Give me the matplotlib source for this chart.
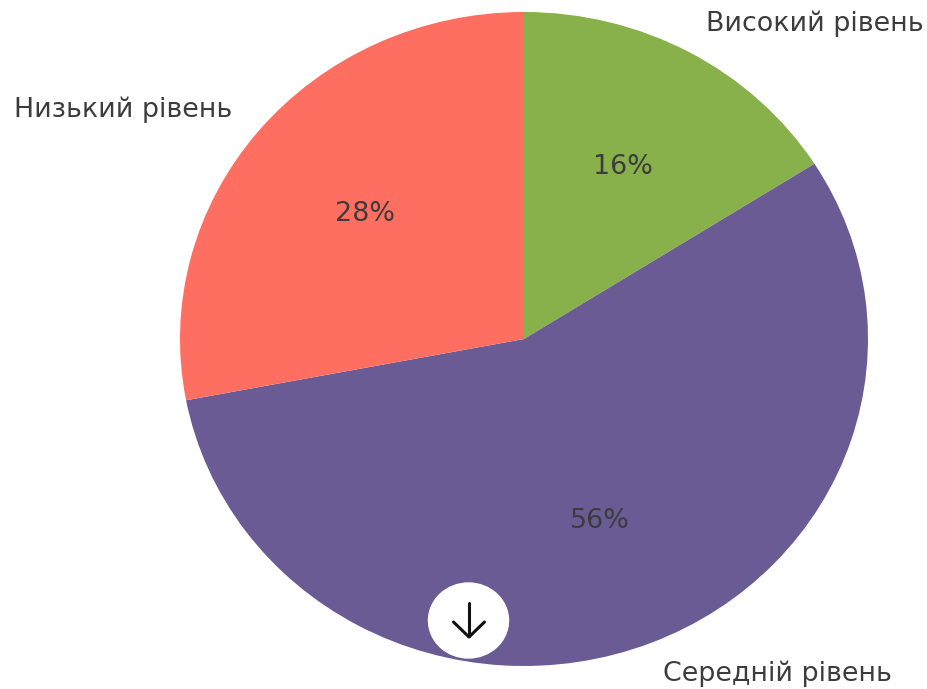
import matplotlib
matplotlib.use('Agg')
import matplotlib.pyplot as plt
from matplotlib.patches import Ellipse

labels = ['Високий рівень', 'Середній рівень', 'Низький рівень']
sizes = [16, 56, 28]
colors = ['#88B04B', '#6B5B95', '#FF6F61']

W, H = 927, 689
fig = plt.figure(figsize=(W/100, H/100), dpi=100)
cx, cy, rx, ry = 524, 339, 344, 327
# axes box in pixels, the pie in the original is stretched a bit wider than tall
ax = fig.add_axes([(cx-rx)/W, 1-(cy+ry)/H, 2*rx/W, 2*ry/H])

wedges, texts, autotexts = ax.pie(sizes, labels=labels, colors=colors, autopct='%1.0f%%',
                                  startangle=90, counterclock=False, radius=1,
                                  textprops={'fontsize': 19.4, 'color': '#3c3c3c'})
ax.set_xlim(-1, 1)
ax.set_ylim(-1, 1)
ax.set_aspect('auto')
for t in texts + autotexts:
    t.set_clip_on(False)

# the download button over the pie
ax2 = fig.add_axes([0, 0, 1, 1])
ax2.set_xlim(0, W)
ax2.set_ylim(H, 0)
ax2.axis('off')
ax2.add_patch(Ellipse((468.5, 620.5), 80, 75, color='white', zorder=3))
ax2.plot([469, 469], [603, 636], color='#111111', lw=2.2, solid_capstyle='round', zorder=4)
ax2.plot([453.5, 469, 484.5], [622, 637, 622], color='#111111', lw=2.2,
         solid_capstyle='round', solid_joinstyle='round', zorder=4)

plt.savefig('out.png', dpi=100)
